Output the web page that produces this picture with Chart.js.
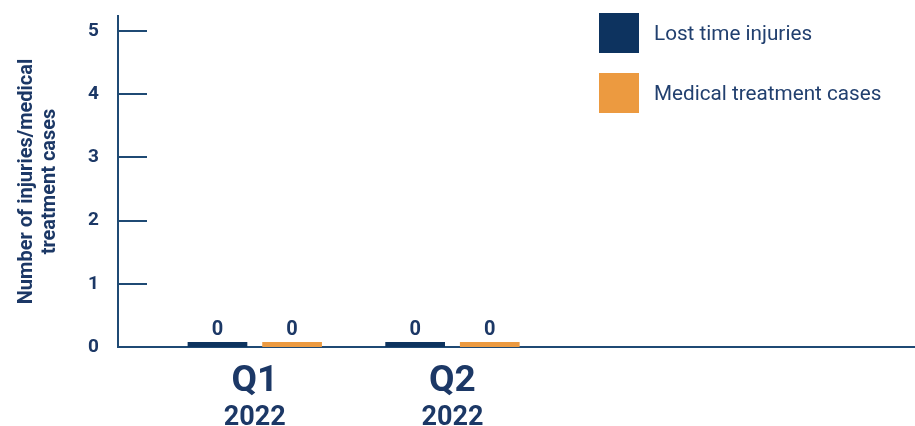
<!DOCTYPE html>
<html>
<head>
<meta charset="utf-8">
<script src="https://cdn.jsdelivr.net/npm/chart.js@4.4.1/dist/chart.umd.min.js"></script>
<style>
  html, body { margin: 0; padding: 0; background: #ffffff; }
  #wrap { position: relative; width: 915px; height: 426px; }
  #legend { position: absolute; left: 599px; top: 13px; font-family: Roboto, "Open Sans", sans-serif; font-size: 20.7px; color: #22406f; }
  .item { display: flex; align-items: center; height: 40px; margin-bottom: 20px; }
  .box { width: 40px; height: 40px; margin-right: 15px; }
</style>
</head>
<body>
<div id="wrap">
  <canvas id="c" width="915" height="426"></canvas>
  <div id="legend"></div>
</div>
<script>
const categories = ['Q1', 'Q2'];
const years = ['2022', '2022'];
const lostTimeInjuries = [0, 0];
const medicalTreatmentCases = [0, 0];
const yTicks = [0, 1, 2, 3, 4, 5];
const seriesNames = ['Lost time injuries', 'Medical treatment cases'];

const NAVY = '#1c3866';
const AXIS = '#1f4a74';
const DARK = '#0d335f';
const ORANGE = '#ec9a40';

const toPoints = arr => arr.map((v, i) => ({ x: i, y: v }));

const tickMarks = {
  id: 'tickMarks',
  afterDatasetsDraw(chart) {
    const y = chart.scales.y;
    const ctx = chart.ctx;
    ctx.save();
    ctx.strokeStyle = AXIS;
    ctx.lineWidth = 2;
    y.ticks.forEach((t, i) => {
      const py = Math.round(y.getPixelForTick(i));
      ctx.beginPath();
      ctx.moveTo(chart.chartArea.left, py);
      ctx.lineTo(chart.chartArea.left + 29, py);
      ctx.stroke();
    });
    ctx.restore();
  }
};

const valueLabels = {
  id: 'valueLabels',
  afterDatasetsDraw(chart) {
    const ctx = chart.ctx;
    ctx.save();
    ctx.fillStyle = NAVY;
    ctx.font = 'bold 20px Roboto, "Open Sans", sans-serif';
    ctx.textAlign = 'center';
    ctx.textBaseline = 'bottom';
    chart.data.datasets.forEach((ds, di) => {
      const meta = chart.getDatasetMeta(di);
      meta.data.forEach((bar, i) => {
        ctx.fillText(String(ds.data[i].y), bar.x, bar.y - 2);
      });
    });
    ctx.restore();
  }
};

const xMin = -0.692, xMax = 3.34;
const noPad = s => { s.paddingLeft = 0; s.paddingRight = 0; s.paddingTop = 0; s.paddingBottom = 0; };

const chart = new Chart(document.getElementById('c'), {
  type: 'bar',
  data: {
    datasets: [
      { label: seriesNames[0], data: toPoints(lostTimeInjuries), backgroundColor: DARK, minBarLength: 5 },
      { label: seriesNames[1], data: toPoints(medicalTreatmentCases), backgroundColor: ORANGE, minBarLength: 5 }
    ]
  },
  options: {
    responsive: false,
    animation: false,
    layout: { padding: { top: 16, left: 0, right: 0, bottom: 0 } },
    datasets: { bar: { categoryPercentage: 0.755, barPercentage: 0.8 } },
    plugins: { legend: { display: false }, tooltip: { enabled: false } },
    scales: {
      x: {
        type: 'linear',
        offset: false,
        min: xMin, max: xMax,
        afterBuildTicks: s => { s.ticks = categories.map((c, i) => ({ value: i })); },
        afterFit: s => { s.height = 50; noPad(s); },
        grid: { display: false, drawTicks: false, offset: false },
        border: { display: true, color: AXIS, width: 2 },
        ticks: {
          padding: 13,
          color: NAVY,
          font: { family: 'Roboto', weight: 'bold', size: 37 },
          callback: v => categories[v] ?? ''
        }
      },
      x2: {
        type: 'linear',
        position: 'bottom',
        offset: false,
        min: xMin, max: xMax,
        afterBuildTicks: s => { s.ticks = years.map((c, i) => ({ value: i })); },
        afterFit: s => { s.height = 29; noPad(s); },
        grid: { display: false, drawTicks: false, offset: false },
        border: { display: false },
        ticks: {
          padding: 5,
          color: NAVY,
          font: { family: 'Roboto', weight: 'bold', size: 27 },
          callback: v => years[v] ?? ''
        }
      },
      y: {
        type: 'linear',
        min: 0, max: 5.24,
        afterBuildTicks: s => { s.ticks = yTicks.map(v => ({ value: v })); },
        afterFit: s => { s.width = 118; noPad(s); },
        grid: { display: false, drawTicks: false },
        border: { display: true, color: AXIS, width: 2 },
        ticks: {
          padding: 19,
          color: NAVY,
          font: { family: 'Roboto', weight: 'bold', size: 19 }
        },
        title: {
          display: true,
          text: ['Number of injuries/medical', 'treatment cases'],
          color: NAVY,
          font: { family: 'Roboto', weight: 'bold', size: 20, lineHeight: 1.15 },
          padding: { top: 15, bottom: 0 }
        }
      }
    }
  },
  plugins: [tickMarks, valueLabels]
});

const legend = document.getElementById('legend');
chart.data.datasets.forEach(ds => {
  const item = document.createElement('div');
  item.className = 'item';
  const box = document.createElement('div');
  box.className = 'box';
  box.style.background = ds.backgroundColor;
  const txt = document.createElement('span');
  txt.textContent = ds.label;
  item.appendChild(box);
  item.appendChild(txt);
  legend.appendChild(item);
});
</script>
</body>
</html>
